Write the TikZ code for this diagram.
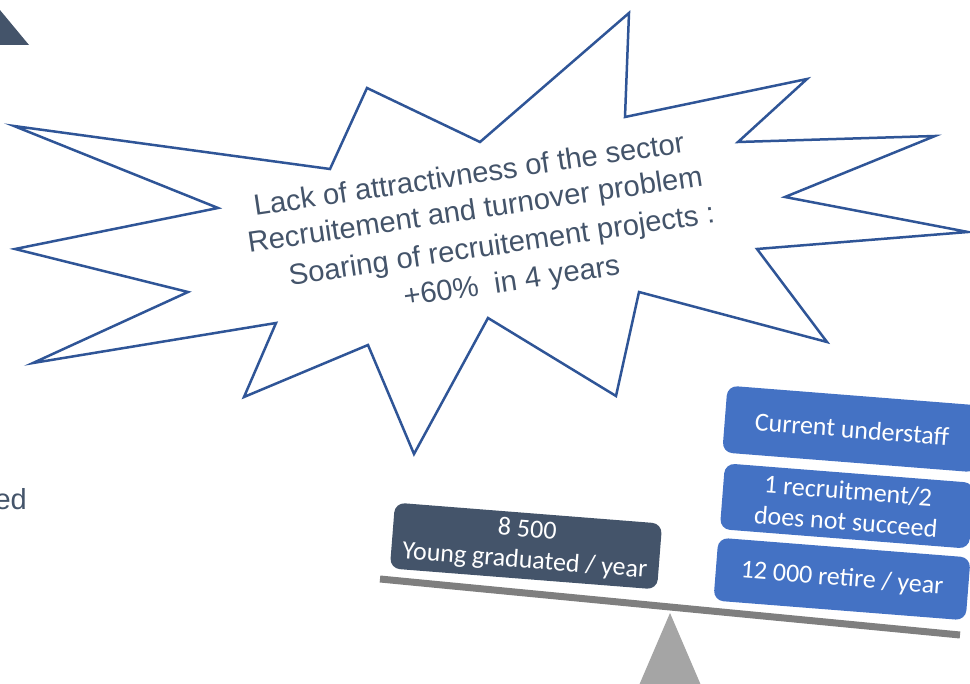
\documentclass[tikz,border=0pt]{standalone}
\usepackage{fontspec}
\setmainfont{Liberation Sans}
\newfontfamily\calib{Carlito}
\definecolor{slate}{HTML}{44546A}
\definecolor{burstblue}{HTML}{2F5597}
\definecolor{boxblue}{HTML}{4472C4}
\definecolor{beamgray}{HTML}{7F7F7F}
\definecolor{pivotgray}{HTML}{A5A5A5}
\begin{document}
\begin{tikzpicture}[x=1pt,y=-1pt,
  burst/.style={draw=burstblue, line width=2.5pt, fill=white, line join=miter, miter limit=20},
  burstline/.style={text=slate, font=\fontsize{29.2}{37}\selectfont, inner sep=0pt, anchor=base, rotate=8.4},
  infobox/.style={fill=boxblue, rounded corners=10pt, text=white, align=center,
    font=\calib\fontsize{26}{31}\selectfont, inner sep=0pt, rotate=-4.5},
  darkbox/.style={infobox, fill=slate},
  beam/.style={draw=beamgray, line width=7pt},
  pivot/.style={fill=pivotgray},
  corner/.style={fill=slate},
  sidetext/.style={text=slate, font=\fontsize{29}{34}\selectfont, inner sep=0pt}]
\useasboundingbox (0,0) rectangle (970,684);

% partial triangle top-left
\fill[corner] (-10,-2) -- (29,45) -- (-10,45) -- cycle;

% side text
\node[sidetext, anchor=base east] (ed) at (27,510) {ed};

% starburst
\draw[burst] (14,126) -- (330,169) -- (367,88) -- (480,142) -- (629,13) -- (625,117)
  -- (807,79) -- (738,142) -- (935,136) -- (785,197) -- (968,232) -- (757,249)
  -- (827,342) -- (639,292) -- (616,396) -- (488,318) -- (414,454) -- (368,345)
  -- (244,397) -- (276,323) -- (33,363) -- (188,292) -- (15,249) -- (218,208) -- cycle;
\node[burstline] (l1) at (470.5,184) {Lack of attractivness of the sector};
\node[burstline] (l2) at (476.5,219) {Recruitement and turnover problem};
\node[burstline] (l3) at (503,254) {Soaring of recruitement projects :};
\node[burstline] (l4) at (513,290.5) {+60\%\ \ in 4 years};

% fulcrum and beam
\fill[pivot] (670,613) -- (703,690) -- (637,690) -- cycle;
\coordinate (beamL) at (380,579);
\coordinate (beamR) at (960,635);
\draw[beam] (beamL) -- (beamR);

% boxes
\node[darkbox, minimum width=268pt, minimum height=66pt] (young) at (526,546) {8 500\\Young graduated / year};
\node[infobox, minimum width=255pt, minimum height=67pt] (under) at (852,429) {Current understaff};
\node[infobox, minimum width=250pt, minimum height=66pt] (recruit) at (847,506) {1 recruitment/2\\does not succeed};
\node[infobox, minimum width=253pt, minimum height=63pt] (retire) at (842,579) {12 000 retire / year};
\end{tikzpicture}
\end{document}
